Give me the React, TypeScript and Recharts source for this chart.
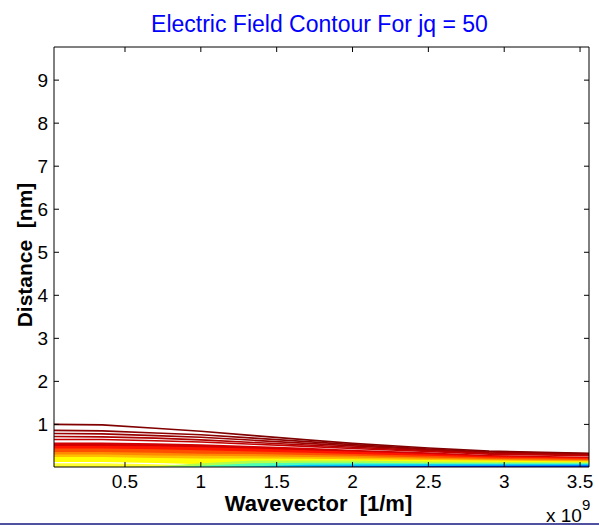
import React from 'react';
import { AreaChart, Area, XAxis, YAxis } from 'recharts';

// wavevector samples (x 10^9 1/m)
const wavevector = [0.032, 0.35, 0.7, 1.0, 1.35, 1.7, 2.0, 2.5, 2.9, 3.559];

// contour level heights in nm, top level first
const levelA = [1.0, 0.99, 0.91, 0.84, 0.74, 0.64, 0.56, 0.45, 0.38, 0.33];
const levelB = [0.86, 0.85, 0.8, 0.76, 0.68, 0.6, 0.53, 0.43, 0.36, 0.315];
const levelC = [0.79, 0.78, 0.74, 0.7, 0.63, 0.56, 0.5, 0.41, 0.34, 0.3];
const levelD = [0.72, 0.71, 0.68, 0.64, 0.58, 0.52, 0.47, 0.39, 0.33, 0.285];
const levelE = [0.65, 0.65, 0.62, 0.59, 0.54, 0.49, 0.44, 0.37, 0.31, 0.27];
const levelF = [0.58, 0.58, 0.56, 0.54, 0.5, 0.46, 0.41, 0.35, 0.29, 0.25];
const levelG = [0.5, 0.5, 0.49, 0.47, 0.44, 0.4, 0.37, 0.31, 0.26, 0.225];
const levelH = [0.44, 0.44, 0.42, 0.4, 0.37, 0.34, 0.31, 0.27, 0.23, 0.2];
const levelI = [0.36, 0.36, 0.34, 0.32, 0.31, 0.29, 0.27, 0.23, 0.2, 0.175];
const levelJ = [0.3, 0.3, 0.28, 0.27, 0.26, 0.24, 0.23, 0.2, 0.18, 0.155];
const levelK = [0.24, 0.24, 0.22, 0.21, 0.21, 0.2, 0.19, 0.17, 0.16, 0.14];
const levelK2 = [0.11, 0.11, 0.09, 0.06, 0, 0, 0, 0, 0, 0];
const levelL = [0, 0, 0.03, 0.1, 0.16, 0.16, 0.16, 0.14, 0.13, 0.12];
const levelM = [0, 0, 0, 0.04, 0.1, 0.11, 0.11, 0.1, 0.1, 0.095];
const levelN = [0, 0, 0, 0, 0.03, 0.06, 0.07, 0.075, 0.075, 0.075];
const levelO = [0, 0, 0, 0, 0, 0.01, 0.02, 0.035, 0.04, 0.045];

const levels = [levelA, levelB, levelC, levelD, levelE, levelF, levelG, levelH,
  levelI, levelJ, levelK, levelK2, levelL, levelM, levelN, levelO];

const xTicks = [0.5, 1, 1.5, 2, 2.5, 3, 3.5];
const yTicks = [1, 2, 3, 4, 5, 6, 7, 8, 9];

const levelColors = ['#800000', '#8c0000', '#9a0000', '#ad0000', '#c00000', '#d20000',
  '#ff1400', '#ff5000', '#ff8a00', '#ffbf00', '#ffff00', '#ffff30', '#b4ff4a', '#4dffb2', '#00c4ff', '#0028ff'];
const lineLevels = 5; // upper levels show as contour lines only
const whiteEdged = 11; // pale yellow level with a white contour edge

const data = wavevector.map((q, i) => {
  const row: Record<string, number> = { q };
  levels.forEach((arr, k) => { row['l' + k] = arr[i]; });
  return row;
});

const FONT = 'Liberation Sans, Arial, sans-serif';

const BottomTick = ({ x, y, payload }: any) => (
  <g>
    <line x1={x} x2={x} y1={y} y2={y - 5} stroke="#000" />
    <text x={x} y={y + 21} textAnchor="middle" fontSize={19} fontFamily={FONT} fill="#000">{payload.value}</text>
  </g>
);
const TopTick = ({ x, y }: any) => <line x1={x} x2={x} y1={y} y2={y + 5} stroke="#000" />;
const LeftTick = ({ x, y, payload }: any) => (
  <g>
    <line x1={x} x2={x + 5} y1={y} y2={y} stroke="#000" />
    <text x={x - 6} y={y + 7} textAnchor="end" fontSize={19} fontFamily={FONT} fill="#000">{payload.value}</text>
  </g>
);
const RightTick = ({ x, y }: any) => <line x1={x} x2={x - 5} y1={y} y2={y} stroke="#000" />;

const renderTitle = ({ viewBox }: any) => (
  <text x={viewBox.x + viewBox.width / 2 - 2} y={32} textAnchor="middle" fontSize={23}
    fontFamily={FONT} fill="#0000ff">Electric Field Contour For jq = 50</text>
);

const renderXLabel = ({ viewBox }: any) => (
  <g>
    <text x={viewBox.x + viewBox.width / 2 - 3} y={viewBox.y + 44} textAnchor="middle" fontSize={22}
      fontWeight="bold" fontFamily={FONT} fill="#000" style={{ whiteSpace: 'pre' }}>{'Wavevector  [1/m]'}</text>
    <text x={viewBox.x + viewBox.width - 43} y={viewBox.y + 55} fontSize={19} fontFamily={FONT} fill="#000">
      x 10<tspan dy={-12} fontSize={15}>9</tspan>
    </text>
  </g>
);

const renderYLabel = ({ viewBox }: any) => {
  const cx = 32;
  const cy = viewBox.y + viewBox.height / 2 - 2;
  return (
    <text x={cx} y={cy} transform={`rotate(-90 ${cx} ${cy})`} textAnchor="middle" fontSize={21}
      fontWeight="bold" fontFamily={FONT} fill="#000" style={{ whiteSpace: 'pre' }}>{'Distance  [nm]'}</text>
  );
};

const X_DOMAIN = [0.032, 3.559];
const Y_DOMAIN = [0.01, 9.77];

export default function App() {
  return (
    <div style={{ position: 'absolute', left: 0, top: 0, width: 599, height: 525, background: '#fff' }}>
      <AreaChart width={599} height={525} data={data} margin={{ top: 46, right: 9, left: 0, bottom: 0 }}>
        <XAxis dataKey="q" type="number" domain={X_DOMAIN} allowDataOverflow ticks={xTicks} interval={0}
          tickSize={0} tickMargin={0} height={58} axisLine={{ stroke: '#000' }} tick={<BottomTick />}
          label={renderXLabel} />
        <XAxis xAxisId="top" orientation="top" dataKey="q" type="number" domain={X_DOMAIN} allowDataOverflow
          ticks={xTicks} interval={0} tickSize={0} tickMargin={0} height={1} axisLine={{ stroke: '#000' }}
          tick={<TopTick />} label={renderTitle} />
        <YAxis type="number" domain={Y_DOMAIN} allowDataOverflow ticks={yTicks} interval={0} tickSize={0}
          tickMargin={0} width={54} axisLine={{ stroke: '#000' }} tick={<LeftTick />} label={renderYLabel} />
        <YAxis yAxisId="right" orientation="right" type="number" domain={Y_DOMAIN} allowDataOverflow
          ticks={yTicks} interval={0} tickSize={0} tickMargin={0} width={1} axisLine={{ stroke: '#000' }}
          tick={<RightTick />} />
        {levels.map((_, k) => (
          <Area key={k} type="linear" dataKey={'l' + k} isAnimationActive={false}
            fill={k < lineLevels ? '#ffffff' : levelColors[k]} fillOpacity={1}
            stroke={k < lineLevels ? levelColors[k] : k === whiteEdged ? '#ffffff' : 'none'}
            strokeWidth={k < lineLevels ? 1.6 : 1.2} dot={false} activeDot={false} />
        ))}
      </AreaChart>
      <div style={{ position: 'absolute', left: 0, top: 523, width: 599, height: 2, background: '#5050a0' }} />
    </div>
  );
}
